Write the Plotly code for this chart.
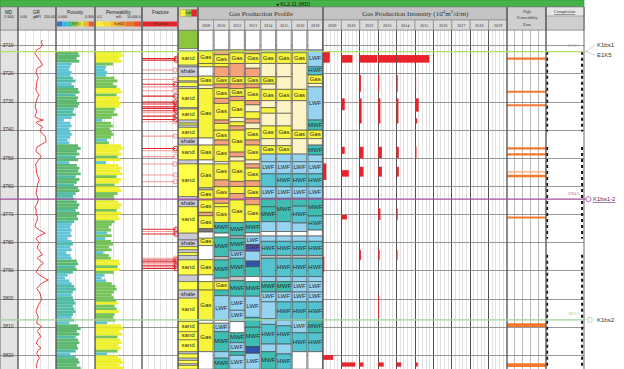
import plotly.graph_objects as go

W, H = 624, 369
HEAD = 30
D_TOP, D_BOT = 3704.4, 3824.85

# ---------------- data ----------------
depth_ticks = [3710, 3720, 3730, 3740, 3750, 3760, 3770, 3780, 3790, 3800, 3810, 3820]

gr_depth = [3708.0, 3708.8, 3709.8, 3710.6, 3711.5, 3712.1, 3712.7, 3713.3, 3713.9, 3714.5,
            3715.1, 3716.0, 3716.9, 3717.5, 3718.0, 3718.9, 3719.8, 3720.8, 3721.6, 3722.4,
            3723.4, 3724.6, 3725.7, 3726.7, 3727.5, 3728.3, 3729.3, 3730.5, 3731.7, 3732.6,
            3733.4, 3734.3, 3735.2, 3735.9, 3736.4, 3736.7, 3737.2, 3738.0, 3738.8, 3739.6,
            3740.5, 3741.5, 3742.3, 3743.3, 3744.1, 3744.9, 3745.9, 3746.8, 3747.6, 3748.6,
            3749.4, 3750.2, 3751.2, 3752.0, 3753.0, 3754.2, 3755.3, 3756.5, 3757.7, 3758.9,
            3760.1, 3761.3, 3762.4, 3763.6, 3764.8, 3766.0, 3767.2, 3768.4, 3769.5, 3770.7,
            3771.9, 3773.1, 3774.3, 3775.5, 3776.6, 3777.5, 3778.4, 3779.3, 3780.2, 3781.0,
            3782.0, 3783.2, 3784.3, 3784.9, 3785.5, 3786.5, 3787.3, 3788.1, 3789.1, 3790.3,
            3791.1, 3792.0, 3792.8, 3793.2, 3793.8, 3794.4, 3795.4, 3796.2, 3797.0, 3798.0,
            3799.1, 3800.3, 3801.3, 3802.1, 3803.3, 3804.5, 3805.4, 3806.3, 3807.4, 3808.6,
            3809.2, 3809.8, 3810.7, 3811.6, 3812.4, 3813.4, 3814.3, 3815.1, 3815.7, 3816.5,
            3817.5, 3818.3, 3819.3, 3820.2, 3821.0, 3821.9, 3822.8, 3823.8, 3824.6]
gr_api = [95, 92, 97, 90, 74, 68, 67, 72, 76, 82,
          87, 92, 97, 86, 76, 73, 71, 78, 80, 75,
          74, 70, 71, 77, 84, 78, 74, 70, 68, 72,
          74, 70, 67, 80, 100, 85, 71, 82, 97, 90,
          87, 100, 107, 110, 111, 95, 76, 72, 71, 85,
          93, 84, 76, 70, 71, 73, 74, 79, 84, 78,
          76, 72, 71, 76, 80, 76, 67, 72, 71, 76,
          76, 70, 67, 85, 107, 85, 71, 78, 84, 78,
          76, 88, 97, 82, 76, 90, 100, 88, 80, 71,
          80, 93, 108, 120, 104, 93, 82, 74, 80, 87,
          90, 93, 85, 80, 75, 71, 76, 80, 76, 74,
          85, 93, 82, 76, 84, 90, 80, 74, 71, 82,
          90, 78, 74, 80, 84, 78, 76, 72, 74]

por_depth = list(range(3712, 3825))
porosity = [0.17, 0.18, 0.16, 0.18, 0.12,
            0.11, 0.10, 0.12, 0.11,
            0.13, 0.15, 0.12, 0.14,
            0.17, 0.18, 0.15, 0.17,
            0.16, 0.18, 0.17, 0.14,
            0.13, 0.15, 0.12,
            0.06, 0.11, 0.12, 0.10, 0.11, 0.12, 0.11, 0.09, 0.10,
            0.17, 0.19, 0.16, 0.18, 0.15, 0.17,
            0.10,
            0.16, 0.18, 0.17, 0.19, 0.15, 0.18, 0.16, 0.14, 0.17, 0.18, 0.15, 0.13,
            0.14, 0.16, 0.18, 0.17, 0.15, 0.18, 0.16, 0.17, 0.14, 0.12, 0.11, 0.12,
            0.11, 0.12, 0.09, 0.12, 0.13, 0.11, 0.12, 0.08, 0.11, 0.12,
            0.16, 0.17, 0.15, 0.16, 0.13,
            0.09, 0.07, 0.10,
            0.12, 0.14, 0.15, 0.13, 0.12,
            0.13, 0.14, 0.15, 0.13, 0.14, 0.15, 0.13, 0.12, 0.14,
            0.10,
            0.17, 0.19, 0.16, 0.18, 0.15, 0.17, 0.18, 0.16, 0.17, 0.15,
            0.11,
            0.15, 0.17, 0.18, 0.16, 0.19]
permeability = [60, 90, 40, 70, 8,
                1.5, 1.2, 2, 1.5,
                12, 25, 8, 20,
                50, 70, 20, 45,
                35, 60, 40, 15,
                10, 25, 6,
                0.6, 5, 8, 4, 6, 9, 5, 2, 3,
                60, 90, 40, 70, 25, 50,
                1.5,
                30, 70, 45, 80, 20, 60, 35, 12, 40, 65, 25, 10,
                12, 30, 70, 45, 20, 60, 30, 40, 12, 6, 3, 5,
                2, 6, 1.2, 5, 8, 3, 6, 0.8, 3, 5,
                35, 50, 25, 40, 10,
                1, 0.5, 1.5,
                6, 15, 20, 10, 6,
                10, 18, 30, 12, 20, 35, 12, 8, 15,
                2,
                60, 100, 40, 80, 25, 50, 70, 30, 55, 25,
                2,
                30, 60, 90, 40, 120]

frac_depth = [3714.5, 3715.1, 3718.6, 3722.0, 3723.7, 3724.6, 3726.0, 3727.9, 3730.0, 3730.7,
              3731.7, 3732.3, 3733.1, 3733.8, 3735.0, 3736.2, 3737.0, 3742.1, 3746.5, 3747.3,
              3749.4, 3752.0, 3755.9, 3758.3, 3775.2, 3776.0, 3776.9, 3785.5, 3786.1, 3786.8,
              3787.5, 3788.2, 3789.1]
frac_len = [86, 85, 82, 82, 84, 83, 82, 84, 83, 86,
            85, 84, 86, 83, 85, 84, 82, 83, 84, 83,
            84, 82, 83, 83, 85, 84, 85, 84, 85, 86,
            84, 85, 86]
frac_open = [1, 1, 0, 0, 1, 0, 0, 1, 1, 1,
             1, 1, 1, 0, 1, 1, 0, 0, 1, 0,
             0, 0, 0, 0, 1, 0, 1, 0, 1, 1,
             0, 1, 1]

lith_cells = [(3704.4, 3711.0, 'T', ''), (3711.0, 3711.9, 'W', ''),
              (3711.9, 3716.9, 'S', 'sand'), (3716.9, 3717.5, 'K', ''),
              (3717.5, 3721.0, 'K', 'shale'), (3721.0, 3722.5, 'S', ''), (3722.5, 3723.0, 'K', ''),
              (3723.0, 3724.5, 'S', ''), (3724.5, 3725.2, 'K', ''),
              (3725.2, 3732.0, 'S', 'sand'), (3732.0, 3732.5, 'K', ''),
              (3732.5, 3736.4, 'S', 'sand'), (3736.4, 3737.5, 'K', ''), (3737.5, 3738.2, 'S', ''),
              (3738.2, 3739.0, 'K', ''), (3739.0, 3742.8, 'S', 'sand'),
              (3742.8, 3745.3, 'K', 'shale'), (3745.3, 3750.6, 'S', 'sand'),
              (3750.6, 3752.0, 'K', ''), (3752.0, 3763.6, 'S', 'sand'),
              (3763.6, 3764.8, 'K', ''), (3764.8, 3767.2, 'K', 'shale'),
              (3767.2, 3776.6, 'S', 'sand'), (3776.6, 3779.0, 'K', ''),
              (3779.0, 3781.4, 'K', 'shale'), (3781.4, 3782.5, 'S', ''), (3782.5, 3783.5, 'K', ''),
              (3783.5, 3784.5, 'S', ''), (3784.5, 3786.1, 'K', ''),
              (3786.1, 3791.5, 'S', 'sand'), (3791.5, 3793.8, 'K', ''),
              (3793.8, 3796.8, 'S', ''), (3796.8, 3799.7, 'K', 'shale'),
              (3799.7, 3808.0, 'S', 'sand'), (3808.0, 3811.6, 'S', 'sand'),
              (3811.6, 3814.5, 'S', 'sand'), (3814.5, 3818.7, 'S', 'sand'),
              (3818.7, 3819.5, 'K', ''), (3819.5, 3821.0, 'S', ''), (3821.0, 3821.8, 'K', ''),
              (3821.8, 3823.0, 'S', ''), (3823.0, 3823.6, 'K', ''), (3823.6, 3824.9, 'S', '')]

prof_years = ['2009', '2010', '2012', '2013', '2014', '2015', '2016', '2018']
prof_2009 = [(3704.4, 3711.8, 'W', ''), (3711.8, 3716.3, 'G', 'Gas'), (3716.3, 3717.5, 'G', ''),
             (3717.5, 3720.8, 'W', ''), (3720.8, 3724.0, 'G', 'Gas'), (3724.0, 3725.2, 'C', ''),
             (3725.2, 3742.8, 'G', 'Gas'), (3742.8, 3745.3, 'W', ''), (3745.3, 3750.6, 'G', 'Gas'),
             (3750.6, 3752.0, 'W', ''), (3752.0, 3760.5, 'G', 'Gas'), (3760.5, 3761.2, 'K', ''),
             (3761.2, 3764.8, 'G', 'Gas'), (3764.8, 3769.2, 'G', 'Gas'), (3769.2, 3770.4, 'O', ''),
             (3770.4, 3775.0, 'G', 'Gas'), (3775.0, 3776.2, 'D', ''), (3776.2, 3778.4, 'W', ''),
             (3778.4, 3781.0, 'G', 'Gas'), (3781.0, 3786.0, 'W', ''), (3786.0, 3791.4, 'G', 'Gas'),
             (3791.4, 3793.8, 'W', ''), (3793.8, 3796.8, 'G', ''), (3796.8, 3807.6, 'G', 'Gas'),
             (3807.6, 3808.6, 'W', ''), (3808.6, 3818.7, 'G', 'Gas'), (3818.7, 3824.9, 'W', '')]
prof_2010 = [(3704.4, 3711.5, 'W', ''), (3711.5, 3713.2, 'O', ''), (3713.2, 3716.3, 'G', 'Gas'),
             (3716.3, 3717.5, 'G', ''), (3717.5, 3721.0, 'O', ''), (3721.0, 3723.6, 'G', 'Gas'),
             (3723.6, 3725.0, 'O', ''), (3725.0, 3728.7, 'G', 'Gas'), (3728.7, 3730.5, 'O', ''),
             (3730.5, 3736.4, 'G', 'Gas'), (3736.4, 3737.6, 'O', ''), (3737.6, 3740.0, 'G', ''),
             (3740.0, 3743.5, 'G', 'Gas'), (3743.5, 3745.3, 'O', ''), (3745.3, 3751.2, 'G', 'Gas'),
             (3751.2, 3752.0, 'W', ''), (3752.0, 3757.7, 'G', 'Gas'), (3757.7, 3760.1, 'O', ''),
             (3760.1, 3764.2, 'G', 'Gas'), (3764.2, 3766.0, 'O', ''), (3766.0, 3767.2, 'G', ''),
             (3767.2, 3772.8, 'G', 'Gas'), (3772.8, 3776.6, 'M', 'MWF'), (3776.6, 3778.0, 'W', ''),
             (3778.0, 3784.9, 'M', 'MWF'), (3784.9, 3786.1, 'K', ''), (3786.1, 3792.6, 'M', 'MWF'),
             (3792.6, 3793.8, 'K', ''), (3793.8, 3796.8, 'G', 'Gas'), (3796.8, 3798.8, 'M', ''),
             (3798.8, 3807.6, 'L', 'LWF'), (3807.6, 3808.6, 'W', ''), (3808.6, 3811.6, 'L', 'LWF'),
             (3811.6, 3818.7, 'M', 'MWF'), (3818.7, 3821.0, 'L', ''), (3821.0, 3824.9, 'M', 'MWF')]
prof_2012 = [(3704.4, 3711.5, 'W', ''), (3711.5, 3712.5, 'G', ''), (3712.5, 3716.3, 'G', 'Gas'),
             (3716.3, 3721.0, 'O', ''), (3721.0, 3723.6, 'G', 'Gas'), (3723.6, 3725.2, 'O', ''),
             (3725.2, 3728.0, 'G', 'Gas'), (3728.0, 3729.5, 'O', ''), (3729.5, 3735.5, 'G', 'Gas'),
             (3735.5, 3737.0, 'C', ''), (3737.0, 3738.5, 'G', ''), (3738.5, 3740.0, 'O', ''),
             (3740.0, 3747.8, 'G', 'Gas'), (3747.8, 3749.5, 'O', ''), (3749.5, 3751.0, 'C', ''),
             (3751.0, 3758.2, 'G', 'Gas'), (3758.2, 3760.0, 'O', ''), (3760.0, 3762.5, 'G', ''),
             (3762.5, 3764.8, 'O', ''), (3764.8, 3772.8, 'G', 'Gas'), (3772.8, 3777.6, 'M', 'MWF'),
             (3777.6, 3778.4, 'K', ''), (3778.4, 3782.8, 'M', 'MWF'), (3782.8, 3785.5, 'L', 'LWF'),
             (3785.5, 3792.0, 'M', 'MWF'), (3792.0, 3793.5, 'K', ''), (3793.5, 3799.0, 'M', 'MWF'),
             (3799.0, 3804.0, 'L', 'LWF'), (3804.0, 3808.0, 'L', 'LWF'), (3808.0, 3812.0, 'W', ''),
             (3812.0, 3815.5, 'M', 'MWF'), (3815.5, 3818.7, 'L', 'LWF'), (3818.7, 3820.0, 'M', ''),
             (3820.0, 3824.9, 'L', 'LWF')]
prof_2013 = [(3704.4, 3711.5, 'W', ''), (3711.5, 3712.8, 'O', ''), (3712.8, 3716.3, 'G', 'Gas'),
             (3716.3, 3718.0, 'C', ''), (3718.0, 3721.0, 'O', ''), (3721.0, 3723.6, 'G', 'Gas'),
             (3723.6, 3725.0, 'O', ''), (3725.0, 3729.5, 'G', 'Gas'), (3729.5, 3731.0, 'O', ''),
             (3731.0, 3733.5, 'C', ''), (3733.5, 3736.0, 'G', ''), (3736.0, 3737.5, 'O', ''),
             (3737.5, 3739.5, 'C', ''), (3739.5, 3743.5, 'G', 'Gas'), (3743.5, 3745.3, 'O', ''),
             (3745.3, 3750.6, 'G', 'Gas'), (3750.6, 3752.0, 'C', ''), (3752.0, 3753.5, 'O', ''),
             (3753.5, 3758.0, 'G', 'Gas'), (3758.0, 3760.0, 'O', ''), (3760.0, 3764.0, 'G', 'Gas'),
             (3764.0, 3766.5, 'O', ''), (3766.5, 3772.5, 'G', 'Gas'), (3772.5, 3776.5, 'M', 'MWF'),
             (3776.5, 3777.6, 'W', ''), (3777.6, 3780.6, 'L', 'LWF'), (3780.6, 3783.0, 'S', 'SWF'),
             (3783.0, 3786.5, 'L', ''), (3786.5, 3788.5, 'B', ''), (3788.5, 3792.0, 'M', ''),
             (3792.0, 3793.8, 'W', ''), (3793.8, 3799.0, 'M', 'MWF'), (3799.0, 3806.5, 'L', 'LWF'),
             (3806.5, 3810.0, 'M', ''), (3810.0, 3816.9, 'M', 'MWF'), (3816.9, 3819.3, 'B', ''),
             (3819.3, 3824.9, 'L', 'LWF')]
prof_2014 = [(3704.4, 3711.5, 'W', ''), (3711.5, 3712.5, 'C', ''), (3712.5, 3716.3, 'G', 'Gas'),
             (3716.3, 3721.0, 'C', ''), (3721.0, 3723.6, 'G', 'Gas'), (3723.6, 3725.5, 'C', ''),
             (3725.5, 3729.5, 'G', 'Gas'), (3729.5, 3732.0, 'C', ''), (3732.0, 3734.0, 'G', ''),
             (3734.0, 3738.5, 'C', ''), (3738.5, 3743.0, 'G', 'Gas'), (3743.0, 3745.5, 'C', ''),
             (3745.5, 3748.5, 'G', 'Gas'), (3748.5, 3751.2, 'L', ''), (3751.2, 3755.5, 'L', 'LWF'),
             (3755.5, 3760.1, 'H', ''), (3760.1, 3764.2, 'L', 'LWF'), (3764.2, 3767.2, 'M', ''),
             (3767.2, 3772.5, 'M', 'MWF'), (3772.5, 3776.0, 'L', ''), (3776.0, 3777.6, 'W', ''),
             (3777.6, 3779.5, 'L', ''), (3779.5, 3784.5, 'H', 'HWF'), (3784.5, 3785.5, 'K', ''),
             (3785.5, 3792.0, 'H', ''), (3792.0, 3793.8, 'L', ''), (3793.8, 3797.5, 'M', 'MWF'),
             (3797.5, 3801.0, 'L', 'LWF'), (3801.0, 3807.0, 'L', ''), (3807.0, 3809.0, 'L', ''),
             (3809.0, 3816.0, 'H', 'HWF'), (3816.0, 3818.7, 'L', ''), (3818.7, 3824.9, 'M', 'MWF')]
prof_2015 = [(3704.4, 3711.5, 'W', ''), (3711.5, 3712.5, 'C', ''), (3712.5, 3716.3, 'G', 'Gas'),
             (3716.3, 3721.0, 'C', ''), (3721.0, 3725.5, 'C', ''), (3725.5, 3729.5, 'G', 'Gas'),
             (3729.5, 3734.0, 'C', ''), (3734.0, 3738.5, 'C', ''), (3738.5, 3743.0, 'G', 'Gas'),
             (3743.0, 3745.5, 'C', ''), (3745.5, 3748.5, 'G', 'Gas'), (3748.5, 3751.2, 'L', ''),
             (3751.2, 3755.5, 'L', 'LWF'), (3755.5, 3760.1, 'H', 'HWF'), (3760.1, 3764.2, 'L', 'LWF'),
             (3764.2, 3772.5, 'M', 'MWF'), (3772.5, 3776.0, 'L', ''), (3776.0, 3777.6, 'W', ''),
             (3777.6, 3779.5, 'L', ''), (3779.5, 3784.5, 'H', 'HWF'), (3784.5, 3785.5, 'K', ''),
             (3785.5, 3792.0, 'H', 'HWF'), (3792.0, 3793.8, 'L', ''), (3793.8, 3797.5, 'M', 'MWF'),
             (3797.5, 3801.0, 'L', 'LWF'), (3801.0, 3807.5, 'H', 'HWF'), (3807.5, 3809.5, 'L', ''),
             (3809.5, 3816.0, 'H', 'HWF'), (3816.0, 3819.5, 'L', ''), (3819.5, 3824.9, 'H', 'HWF')]
prof_2016 = [(3704.4, 3711.5, 'W', ''), (3711.5, 3712.5, 'C', ''), (3712.5, 3716.3, 'G', 'Gas'),
             (3716.3, 3725.5, 'C', ''), (3725.5, 3729.5, 'G', 'Gas'), (3729.5, 3740.0, 'C', ''),
             (3740.0, 3743.0, 'G', 'Gas'), (3743.0, 3748.5, 'C', ''), (3748.5, 3751.2, 'L', ''),
             (3751.2, 3755.5, 'L', 'LWF'), (3755.5, 3760.1, 'H', 'HWF'), (3760.1, 3764.2, 'L', 'LWF'),
             (3764.2, 3767.0, 'M', ''), (3767.0, 3773.0, 'H', 'HWF'), (3773.0, 3776.0, 'L', ''),
             (3776.0, 3777.6, 'W', ''), (3777.6, 3779.5, 'L', ''), (3779.5, 3784.5, 'H', 'HWF'),
             (3784.5, 3785.5, 'K', ''), (3785.5, 3792.0, 'H', 'HWF'), (3792.0, 3793.8, 'L', ''),
             (3793.8, 3797.5, 'L', 'LWF'), (3797.5, 3801.0, 'L', 'LWF'), (3801.0, 3807.5, 'H', 'HWF'),
             (3807.5, 3812.0, 'L', 'LWF'), (3812.0, 3818.7, 'H', 'HWF'), (3818.7, 3824.9, 'W', '')]
prof_2018 = [(3704.4, 3711.5, 'W', ''), (3711.5, 3717.5, 'L', 'LWF'), (3717.5, 3720.4, 'H', 'HWF'),
             (3720.4, 3723.4, 'G', 'Gas'), (3723.4, 3724.6, 'C', ''), (3724.6, 3736.4, 'L', 'LWF'),
             (3736.4, 3740.0, 'M', 'MWF'), (3740.0, 3743.0, 'G', 'Gas'), (3743.0, 3745.3, 'C', ''),
             (3745.3, 3748.8, 'M', 'MWF'), (3748.8, 3751.2, 'L', ''), (3751.2, 3755.5, 'L', 'LWF'),
             (3755.5, 3760.1, 'H', 'HWF'), (3760.1, 3764.2, 'L', 'LWF'), (3764.2, 3770.5, 'M', 'MWF'),
             (3770.5, 3775.5, 'H', 'HWF'), (3775.5, 3777.6, 'W', ''), (3777.6, 3779.5, 'L', ''),
             (3779.5, 3784.5, 'H', 'HWF'), (3784.5, 3785.5, 'K', ''), (3785.5, 3792.0, 'H', 'HWF'),
             (3792.0, 3793.8, 'L', ''), (3793.8, 3797.5, 'L', 'LWF'), (3797.5, 3801.0, 'L', 'LWF'),
             (3801.0, 3807.5, 'H', 'HWF'), (3807.5, 3812.0, 'M', 'MWF'), (3812.0, 3818.7, 'H', 'HWF'),
             (3818.7, 3824.9, 'W', '')]
prof_columns = [prof_2009, prof_2010, prof_2012, prof_2013, prof_2014, prof_2015, prof_2016, prof_2018]

int_years = ['2009', '2010', '2012', '2013', '2014', '2015', '2016', '2017', '2018', '2019']
int_col = [0, 1, 2, 3, 4, 5,
           2, 3, 4, 5, 0,
           1, 2, 3, 4, 5, 5,
           1, 2, 3, 4, 5,
           0, 1, 2, 3, 4,
           1, 3, 4,
           2, 3, 4,
           0, 3, 0,
           1, 2, 3, 4, 5]
int_top = [3712.1, 3713.3, 3713.3, 3713.3, 3713.3, 3713.3,
           3720.4, 3720.4, 3720.4, 3720.4, 3721.0,
           3728.7, 3728.7, 3728.7, 3728.7, 3728.7, 3735.8,
           3745.9, 3745.9, 3745.9, 3745.9, 3745.9,
           3751.8, 3754.2, 3753.0, 3753.0, 3753.0,
           3770.1, 3767.8, 3767.8,
           3782.6, 3782.6, 3782.6,
           3785.0, 3798.5, 3819.9,
           3822.5, 3822.5, 3822.5, 3822.5, 3822.5]
int_bot = [3716.0, 3716.0, 3716.0, 3716.0, 3716.0, 3716.0,
           3726.3, 3726.3, 3726.3, 3726.3, 3737.6,
           3732.9, 3737.6, 3737.6, 3737.6, 3733.4, 3737.6,
           3748.4, 3750.0, 3750.0, 3750.0, 3750.0,
           3757.7, 3756.5, 3756.5, 3756.5, 3756.5,
           3771.7, 3771.9, 3771.9,
           3786.1, 3786.1, 3786.1,
           3790.3, 3806.8, 3821.6,
           3824.0, 3824.0, 3824.0, 3824.0, 3824.0]
int_value = [0.74, 1.20, 1.90, 1.94, 2.00, 1.56,
             0.12, 0.12, 0.12, 0.12, 0.06,
             0.36, 0.20, 0.24, 0.20, 0.40, 0.24,
             0.36, 0.40, 0.40, 0.24, 0.16,
             0.36, 0.80, 0.40, 0.40, 0.24,
             0.60, 0.24, 0.12,
             0.12, 0.16, 0.10,
             0.14, 0.10, 1.10,
             1.50, 0.40, 0.60, 0.50, 0.30]
INT_FULL = 2.0  # full scale of each year column

hp_top = [3714.2, 3726.0, 3730.8, 3746.1, 3748.2, 3754.6, 3755.8, 3770.7, 3808.6, 3822.8]
hp_bot = [3715.0, 3726.7, 3731.5, 3746.9, 3749.0, 3755.0, 3756.7, 3771.4, 3809.9, 3824.1]
hp_strong = [1, 1, 1, 1, 1, 0, 1, 1, 1, 1]

perf_top = [3712.1, 3746.0, 3784.3]
perf_bot = [3740.5, 3778.6, 3824.0]

form_name = ['K1bs1|E1K5', 'K1bs1-2', 'K1bs2']
form_depth = [3712.1, 3764.5, 3807.4]
form_color = ['#b5d96a', '#a050a0', '#9ed49e']

# ---------------- style ----------------
def px(x): return x / W
def py(y): return 1 - y / H

TR = {'depth': (0, 18), 'gr': (18, 56), 'por': (56, 95), 'perm': (95, 142), 'frac': (142, 178),
      'lith': (178, 198), 'prof': (198, 323), 'int': (323, 507), 'hp': (507, 546), 'comp': (546, 584)}
AX = {'depth': 'x', 'gr': 'x2', 'por': 'x3', 'perm': 'x4', 'frac': 'x5',
      'lith': 'x6', 'prof': 'x7', 'int': 'x8', 'hp': 'x9', 'comp': 'x10'}

CELL_COL = {'W': '#ffffff', 'G': '#f7f43a', 'O': '#f3a27c', 'C': '#fcf3c6', 'K': '#c4c4c4',
            'D': '#7c7c7c', 'L': '#95d3f1', 'M': '#40bdb2', 'H': '#52c3cf', 'S': '#5656c4',
            'B': '#2f55a8', 'T': '#8cc63f'}
LITH_COL = {'S': '#ffff45', 'K': '#c9c9d4', 'W': '#ffffff', 'T': '#8cc63f'}
LABEL_FONT = dict(size=6, color='#2a2a2a', family='Liberation Sans')

fig = go.Figure()
NOH = dict(hoverinfo='skip', showlegend=False)

# depth labels
fig.add_trace(go.Scatter(x=[0.45] * len(depth_ticks), y=depth_ticks, mode='text',
                         text=[str(d) for d in depth_ticks],
                         textfont=dict(size=5, color='#333', family='Liberation Sans'),
                         xaxis='x', yaxis='y', cliponaxis=False, **NOH))

# GR
fig.add_trace(go.Scatter(x=gr_api, y=gr_depth, mode='lines', line=dict(color='#e3262b', width=0.9),
                         xaxis='x2', yaxis='y', **NOH))

# porosity
def por_color(v):
    return '#5cb86e' if v >= 0.155 else ('#52bca6' if v >= 0.125 else '#60c4d6')
fig.add_trace(go.Bar(orientation='h', y=[d + 0.5 for d in por_depth], x=porosity, base=0, width=1.0,
                     marker=dict(color=[por_color(v) for v in porosity], line=dict(width=0)),
                     xaxis='x3', yaxis='y', **NOH))

# permeability (log axis)
def perm_color(v):
    return '#eef02c' if v >= 30 else ('#76c35a' if v >= 3 else '#5ec5cf')
fig.add_trace(go.Bar(orientation='h', y=[d + 0.5 for d in por_depth], x=[k - 0.1 for k in permeability],
                     base=0.1, width=1.0,
                     marker=dict(color=[perm_color(v) for v in permeability], line=dict(width=0)),
                     xaxis='x4', yaxis='y', **NOH))

# fractures
for flag, col in ((0, '#f29a9a'), (1, '#e0262c')):
    xs, ys, mx, my = [], [], [], []
    for d, l, f in zip(frac_depth, frac_len, frac_open):
        if f == flag:
            xs += [0, l, None]
            ys += [d, d, None]
            mx.append(l)
            my.append(d)
    fig.add_trace(go.Scatter(x=xs, y=ys, mode='lines', line=dict(color=col, width=1.1),
                             xaxis='x5', yaxis='y', **NOH))
    fig.add_trace(go.Scatter(x=mx, y=my, mode='markers',
                             marker=dict(symbol='circle-open', size=4.5, color=col, line=dict(width=1)),
                             xaxis='x5', yaxis='y', cliponaxis=False, **NOH))

def cell_traces(cells_by_col, xaxis, colmap, width, line_w):
    xs, bases, th, cols, lx, ly, lt = [], [], [], [], [], [], []
    for i, colcells in enumerate(cells_by_col):
        for (t, b, k, lab) in colcells:
            xs.append(i)
            bases.append(t)
            th.append(b - t)
            cols.append(colmap[k])
            if lab:
                lx.append(i)
                ly.append((t + b) / 2)
                lt.append(lab)
    fig.add_trace(go.Bar(x=xs, base=bases, y=th, width=width,
                         marker=dict(color=cols, line=dict(color='#3c3c3c', width=line_w)),
                         xaxis=xaxis, yaxis='y', **NOH))
    fig.add_trace(go.Scatter(x=lx, y=ly, text=lt, mode='text', textposition='middle center',
                             textfont=LABEL_FONT, xaxis=xaxis, yaxis='y', **NOH))

# lithology column
cell_traces([lith_cells], 'x6', LITH_COL, 1.0, 0.5)
# gas production profile
cell_traces(prof_columns, 'x7', CELL_COL, 0.93, 0.6)

# gas production intensity
fig.add_trace(go.Bar(orientation='h', y=[(t + b) / 2 for t, b in zip(int_top, int_bot)],
                     x=[v / INT_FULL for v in int_value], base=int_col,
                     width=[b - t for t, b in zip(int_top, int_bot)],
                     marker=dict(color='#e8232b', line=dict(width=0)),
                     xaxis='x8', yaxis='y', **NOH))

# high permeability zones
fig.add_trace(go.Bar(orientation='h', y=[(t + b) / 2 for t, b in zip(hp_top, hp_bot)],
                     x=[5] * len(hp_top), base=0, width=[b - t for t, b in zip(hp_top, hp_bot)],
                     marker=dict(color=['#f2792e' if s else '#f6a66e' for s in hp_strong], line=dict(width=0)),
                     xaxis='x9', yaxis='y', **NOH))

# completion (perforated intervals)
for xpos in (0.03, 0.95):
    xs2, ys2 = [], []
    for t, b in zip(perf_top, perf_bot):
        xs2 += [xpos, xpos, None]
        ys2 += [t, b, None]
    fig.add_trace(go.Scatter(x=xs2, y=ys2, mode='lines', line=dict(color='#111', width=2, dash='dot'),
                             xaxis='x10', yaxis='y', cliponaxis=False, **NOH))

# ---------------- axes ----------------
layout_axes = {}
def xax(key, rng, **kw):
    d0, d1 = TR[key]
    name = AX[key].replace('x', 'xaxis')
    base = dict(domain=[px(d0), px(d1)], range=rng, anchor='y', showticklabels=False, ticks='',
                zeroline=False, showgrid=False, fixedrange=True)
    base.update(kw)
    layout_axes[name] = base

xax('depth', [0, 1])
xax('gr', [0, 150], showgrid=True, dtick=30, tick0=0, gridcolor='#cfcfcf', gridwidth=0.6)
xax('por', [0, 0.3], showgrid=True, dtick=0.05, tick0=0, gridcolor='#cfcfcf', gridwidth=0.6)
xax('perm', [-1, 4], type='log', showgrid=True, dtick=1, gridcolor='#c4c4c4', gridwidth=0.6)
xax('frac', [0, 90], showgrid=True, dtick=15, tick0=0, gridcolor='#d2d2d2', gridwidth=0.6)
xax('lith', [-0.5, 0.5])
xax('prof', [-0.5, 7.5])
xax('int', [0, 10], showgrid=True, dtick=1, tick0=0, gridcolor='#505050', gridwidth=1,
    minor=dict(dtick=0.2, tick0=0, showgrid=True, gridcolor='#c6c6c6', gridwidth=0.5))
xax('hp', [0, 5], showgrid=True, dtick=1, tick0=0, gridcolor='#8a8a8a', gridwidth=0.6)
xax('comp', [0, 1])

yaxis = dict(domain=[0, py(HEAD)], range=[D_BOT, D_TOP], showticklabels=False, ticks='',
             showgrid=True, dtick=10, tick0=3700, gridcolor='#7e7e7e', gridwidth=0.8,
             zeroline=False, fixedrange=True)

# ---------------- decorations ----------------
shapes, annotations = [], []

def rect(x0, y0, x1, y1, fill, line='#808080', lw=0.6):
    shapes.append(dict(type='rect', xref='paper', yref='paper', x0=px(x0), x1=px(x1),
                       y0=py(y1), y1=py(y0), fillcolor=fill, line=dict(color=line, width=lw),
                       layer='above'))

def txt(x, y, s, size=4.5, color='#222', family='Liberation Sans', xanchor='center', **kw):
    annotations.append(dict(xref='paper', yref='paper', x=px(x), y=py(y), text=s, showarrow=False,
                            font=dict(size=size, color=color, family=family), xanchor=xanchor,
                            yanchor='middle', borderpad=0, **kw))

# depth track background
shapes.append(dict(type='rect', xref='x domain', yref='y domain', x0=0, x1=1, y0=0, y1=1,
                   fillcolor='#e3e3e3', line=dict(width=0), layer='below'))

# header
rect(0, 0, 584, 7, '#46b34a', line='#2f8f33')
txt(293, 3.7, '● KL2-11 (MD)', 5.2, '#111')
rect(0, 7, 584, 30, '#cdcdcd')
for key in ('depth', 'gr', 'por', 'perm', 'frac', 'lith', 'hp', 'comp'):
    rect(TR[key][0], 7, TR[key][1], 30, '#cfcfcf')
txt(9, 12.5, 'MD', 4.5)
txt(9, 17, '1:500', 3.8)
txt(37, 12.5, 'GR', 4.5)
txt(19, 17, '0.00', 3.6, xanchor='left')
txt(37, 17, 'gAPI', 3.6)
txt(55.5, 17, '150.00', 3.6, xanchor='right')
txt(75.5, 12.5, 'Porosity', 4.5)
txt(57, 17, '0.000', 3.6, xanchor='left')
txt(94.5, 17, '0.300', 3.6, xanchor='right')
txt(118.5, 12.5, 'Permeability', 4.5)
txt(96, 17, '0.1', 3.6, xanchor='left')
txt(118.5, 17, 'mD', 3.6)
txt(141.5, 17, '10,000.0', 3.6, xanchor='right')
txt(160, 12.5, 'Fracture', 4.5)
# header colour bars
por_bar = ['#3a6fd8', '#39b6e6', '#47c28a', '#8ccf45', '#e6e639', '#f2b233', '#ec5a2e']
for i, c in enumerate(por_bar):
    w = (94 - 57) / len(por_bar)
    rect(57 + i * w, 21.5, 57 + (i + 1) * w, 26.5, c, line=c, lw=0)
txt(75.5, 24, 'Φ(%)', 3.6, '#333')
perm_bar = ['#f4f03a', '#f3d835', '#f2bd33', '#f09a30', '#ec722d', '#e8512b']
for i, c in enumerate(perm_bar):
    w = (141 - 96) / len(perm_bar)
    rect(96 + i * w, 21.5, 96 + (i + 1) * w, 26.5, c, line=c, lw=0)
txt(118.5, 24, 'K(mD)', 3.6, '#333')
rect(143, 21.5, 177, 26.5, '#e3262b', line='#e3262b', lw=0)
txt(160, 24, 'Fracture', 3.6, '#333')
rect(180, 9.5, 186, 16.5, '#f5ee3a', line='#888', lw=0.4)
rect(186, 9.5, 191.5, 16.5, '#8cc63f', line='#888', lw=0.4)
rect(191.5, 9.5, 197, 16.5, '#e3262b', line='#888', lw=0.4)
txt(188.5, 13, 'Lith', 3.5, '#222')
# profile header
rect(198, 7, 323, 20, '#c3c3c3')
txt(260.5, 13.5, 'Gas Production Profile', 7, '#333', family='Liberation Serif')
pw = (323 - 198) / len(prof_years)
for i, yname in enumerate(prof_years):
    rect(198 + i * pw, 20, 198 + (i + 1) * pw, 30, '#dadada')
    txt(198 + (i + 0.5) * pw, 25, yname, 4.2, '#333', family='Liberation Serif')
# intensity header
rect(323, 7, 507, 20, '#c3c3c3')
txt(415, 13.5, 'Gas Production Intensity (10<sup>4</sup>m<sup>3</sup>/d/m)', 7, '#333',
    family='Liberation Serif')
iw = (507 - 323) / len(int_years)
for i, yname in enumerate(int_years):
    rect(323 + i * iw, 20, 323 + (i + 1) * iw, 30, '#dadada')
    txt(323 + (i + 0.5) * iw, 25, yname, 4.2, '#333', family='Liberation Serif')
txt(526.5, 12, 'High', 4, '#333', family='Liberation Serif')
txt(526.5, 17.5, 'Permeability', 4, '#333', family='Liberation Serif')
txt(526.5, 24, 'Zone', 4, '#333', family='Liberation Serif')
rect(546, 7, 584, 16, '#e6e6e6')
txt(565, 11.5, '<u>Completion</u>', 4.5, '#333', family='Liberation Serif')

# track borders
for key in TR:
    for xb in TR[key]:
        shapes.append(dict(type='line', xref='paper', yref='paper', x0=px(xb), x1=px(xb),
                           y0=0, y1=py(7), line=dict(color='#5a5a5a', width=0.9), layer='above'))

# formation tops
for name, d, c in zip(form_name, form_depth, form_color):
    shapes.append(dict(type='line', xref='paper', yref='y', x0=0, x1=px(586), y0=d, y1=d,
                       line=dict(color=c, width=1.2), layer='above'))
    annotations.append(dict(xref='paper', yref='y', x=px(580), y=d, yshift=2.5, text=f'{d:.1f}',
                            showarrow=False, font=dict(size=3.5, color=c if c != '#b5d96a' else '#999'),
                            xanchor='right', yanchor='bottom', borderpad=0))
    parts = name.split('|')
    if len(parts) == 2:
        for part, dd in zip(parts, (-2.3, 1.2)):
            shapes.append(dict(type='line', xref='paper', yref='y', x0=px(586), x1=px(595),
                               y0=d, y1=d + dd, line=dict(color='#b0b0b0', width=0.6)))
            annotations.append(dict(xref='paper', yref='y', x=px(596), y=d + dd, text=part,
                                    showarrow=False, font=dict(size=6, color='#333',
                                                               family='Liberation Sans'),
                                    xanchor='left', yanchor='middle', borderpad=0))
    elif name == 'K1bs1-2':
        shapes.append(dict(type='circle', xref='paper', yref='y', x0=px(586), x1=px(591),
                           y0=d - 0.9, y1=d + 0.9, line=dict(color=c, width=0.8)))
        annotations.append(dict(xref='paper', yref='y', x=px(592), y=d, text='<u>' + name + '</u>',
                                showarrow=False, font=dict(size=6, color='#6a2a6a',
                                                           family='Liberation Sans'),
                                xanchor='left', yanchor='middle', borderpad=0))
    else:
        shapes.append(dict(type='rect', xref='paper', yref='y', x0=px(588), x1=px(592),
                           y0=d - 0.8, y1=d + 0.8, line=dict(color='#b0b0b0', width=0.6)))
        annotations.append(dict(xref='paper', yref='y', x=px(596), y=d, text=name,
                                showarrow=False, font=dict(size=6, color='#333',
                                                           family='Liberation Sans'),
                                xanchor='left', yanchor='middle', borderpad=0))

fig.update_layout(width=W, height=H, margin=dict(l=0, r=0, t=0, b=0),
                  paper_bgcolor='white', plot_bgcolor='white', barmode='overlay',
                  yaxis=yaxis, shapes=shapes, annotations=annotations, **layout_axes)
fig.write_html('out.html', config={'displayModeBar': False, 'staticPlot': True},
               post_script="document.body.style.margin='0px';document.body.style.overflow='hidden';")
